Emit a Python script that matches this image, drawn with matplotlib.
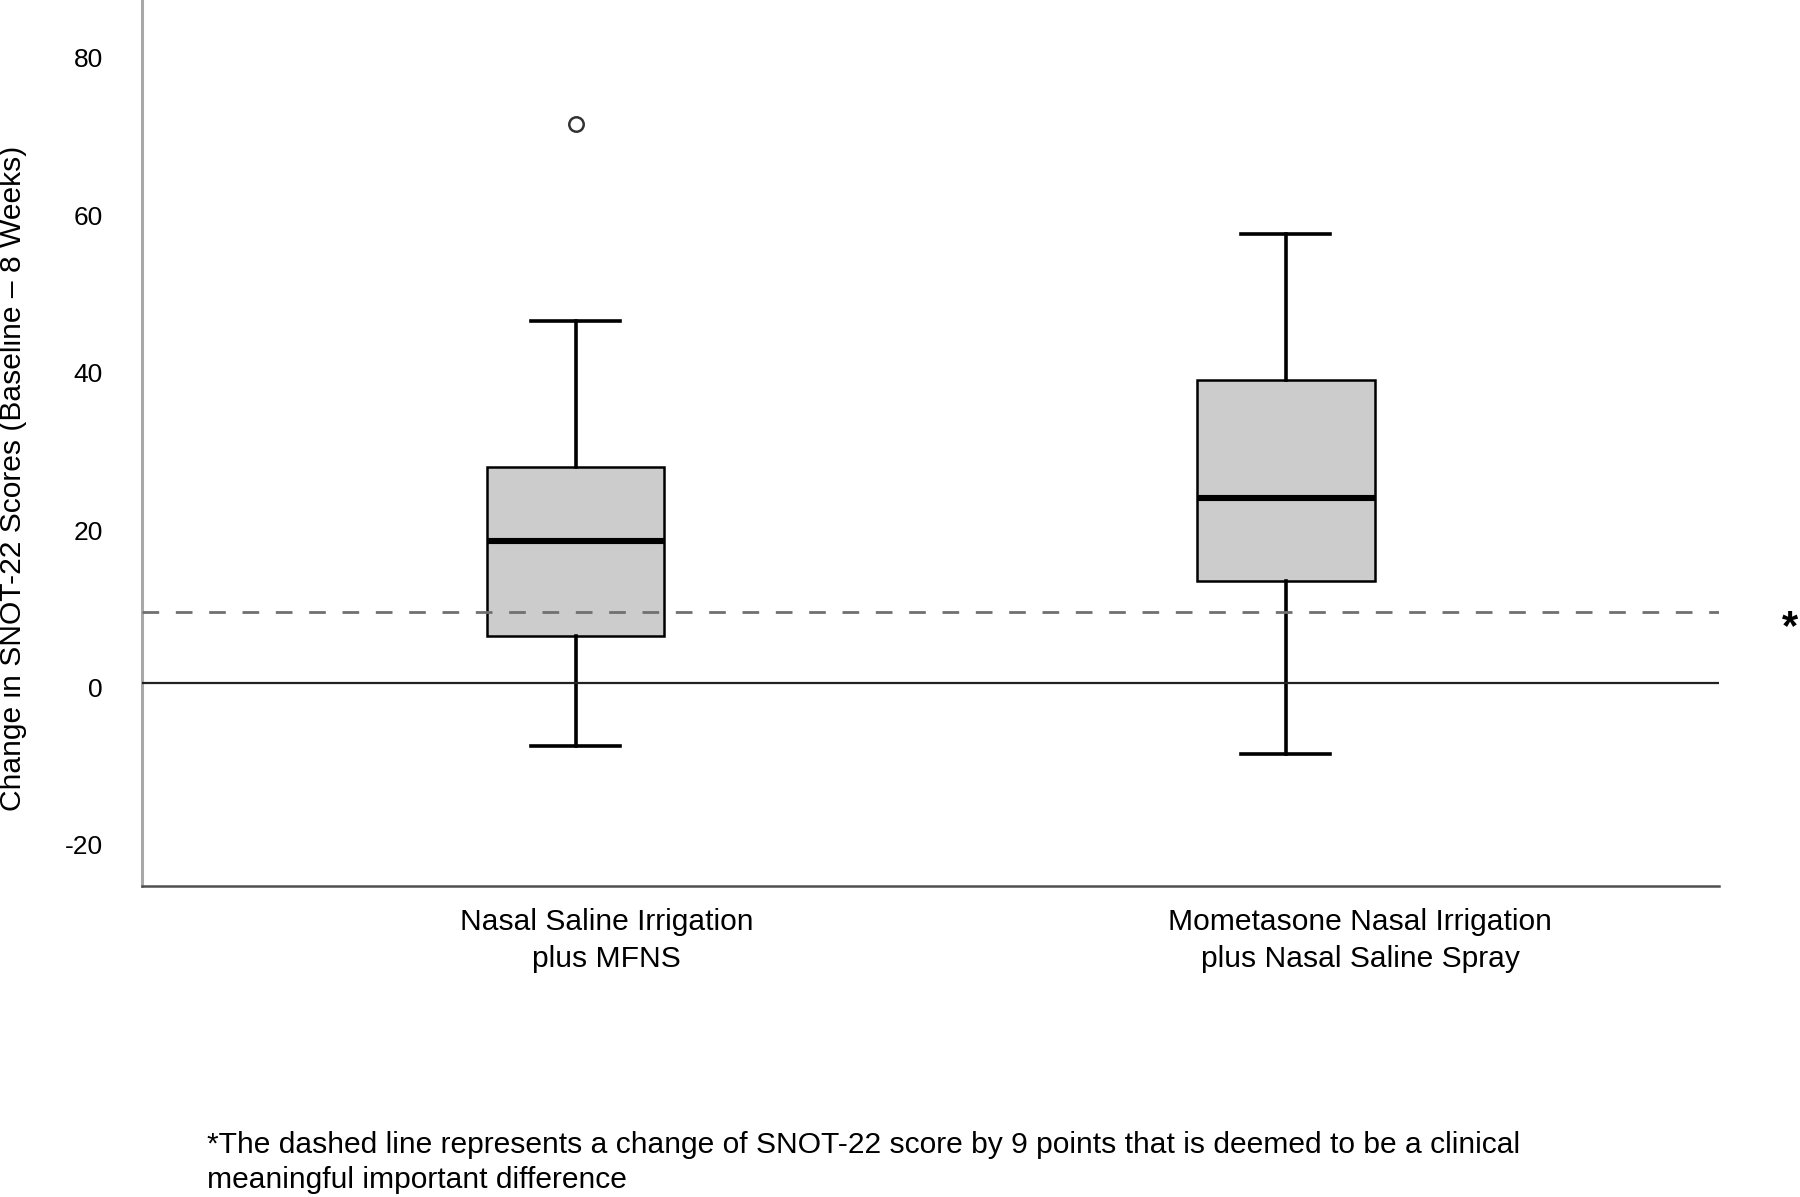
import matplotlib
matplotlib.use('Agg')
import matplotlib.pyplot as plt
from matplotlib.transforms import ScaledTranslation

# box summaries (change in SNOT-22, baseline - 8 weeks)
groups = ['Nasal Saline Irrigation\nplus MFNS',
          'Mometasone Nasal Irrigation\nplus Nasal Saline Spray']
positions = [1, 2]
whislo = [-8, -9]
q1 = [6, 13]
med = [18, 23.5]
q3 = [27.5, 38.5]
whishi = [46, 57]
fliers = [[71], []]

mcid = 9      # dashed line, clinically meaningful difference
ref = 0       # solid reference line
yticks = [-20, 0, 20, 40, 60, 80]

# the category labels sit a bit to the right of the boxes in the original
label_shift = [0.044, 0.105]

note = ('*The dashed line represents a change of SNOT-22 score by 9 points that is deemed to be a clinical\n'
        'meaningful important difference')

plt.rcParams['font.family'] = ['Liberation Sans', 'DejaVu Sans']

fig = plt.figure(figsize=(9, 5.985), dpi=200)
ax = fig.add_axes([0.0787, 0.2598, 0.8763, 0.7402])

stats = []
for i in range(len(groups)):
    stats.append({'label': groups[i], 'whislo': whislo[i], 'q1': q1[i], 'med': med[i],
                  'q3': q3[i], 'whishi': whishi[i], 'fliers': fliers[i]})

ax.bxp(stats, positions=positions, widths=0.25, capwidths=0.125, patch_artist=True,
       boxprops=dict(facecolor='#cccccc', edgecolor='black', linewidth=0.9),
       whiskerprops=dict(color='black', linewidth=1.3),
       capprops=dict(color='black', linewidth=1.3),
       medianprops=dict(color='black', linewidth=2.2),
       flierprops=dict(marker='o', markersize=5.2, markerfacecolor='white',
                       markeredgecolor='#333333', markeredgewidth=0.9))

ax.axhline(mcid, color='#707070', linewidth=1.0, linestyle=(0, (6.0, 6.0)), zorder=3)
ax.axhline(ref, color='#222222', linewidth=0.8, zorder=3)

ax.set_xlim(0.389, 2.61)
ax.set_ylim(-25.8, 86.8)
ax.set_xticks([p + s for p, s in zip(positions, label_shift)])
ax.set_xticklabels(groups, linespacing=1.38)
ax.set_yticks(yticks)
ax.set_yticklabels([str(v) for v in yticks])
ax.tick_params(axis='y', length=0, pad=14, labelsize=9.5)
ax.tick_params(axis='x', length=0, pad=8, labelsize=10.8)

# y labels sit slightly low in the original
for lbl in ax.get_yticklabels():
    lbl.set_transform(lbl.get_transform() + ScaledTranslation(0, -1.6 / 72, fig.dpi_scale_trans))

ax.spines['top'].set_visible(False)
ax.spines['right'].set_visible(False)
ax.spines['left'].set_color('#a8a8a8')
ax.spines['left'].set_linewidth(1.1)
ax.spines['bottom'].set_color('#505050')
ax.spines['bottom'].set_linewidth(0.9)

fig.text(13 / 1800, 0.6007, 'Change in SNOT-22 Scores (Baseline \u2013 8 Weeks)',
         rotation=90, ha='center', va='center', fontsize=10.8)
fig.text(1790 / 1800, 0.466, '*', ha='center', va='baseline', fontsize=15, fontweight='bold')
fig.text(207 / 1800, 0.0288, note, ha='left', va='center', fontsize=10.8, linespacing=1.33)

fig.savefig('out.png', dpi=200)
